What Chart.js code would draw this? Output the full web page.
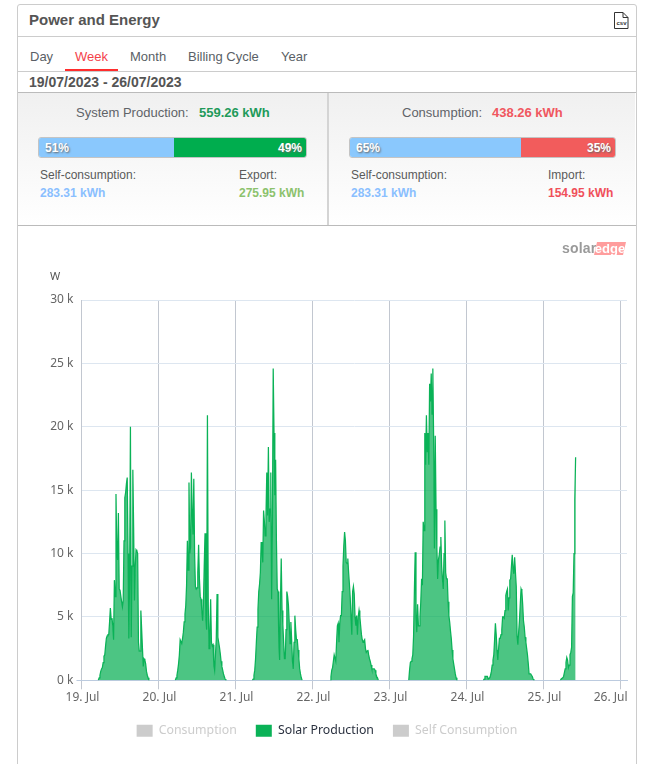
<!DOCTYPE html>
<html>
<head>
<meta charset="utf-8">
<title>Power and Energy</title>
<script src="https://cdn.jsdelivr.net/npm/chart.js@4"></script>
<style>
    html, body { margin: 0; padding: 0; background: #fff; overflow: hidden; }
    body { width: 652px; height: 764px; position: relative; font-family: "Liberation Sans", Arial, sans-serif; color: #555; }
    .abs { position: absolute; white-space: nowrap; line-height: 16px; }
    .line { position: absolute; left: 18px; width: 618px; height: 1px; background: #ccc; }
    #panel { position: absolute; left: 17px; top: 4px; width: 618px; height: 780px; border: 1px solid #ccc; border-radius: 3px; box-sizing: content-box; }
    .stats { position: absolute; top: 93px; height: 132px; background: linear-gradient(#f0f0f0, #fff); }
    .tab { font-size: 13px; top: 49px; color: #5a5f66; }
    .bar { position: absolute; top: 137px; height: 19px; border: 1px solid #c4c4c4; border-radius: 3px; overflow: hidden; }
    .bar div { position: absolute; top: 0; height: 19px; }
    .pct { color: #fff; font-weight: bold; font-size: 12px; top: 140px; text-shadow: 1px 1px 2px #666; }
    .lbl { font-size: 12px; top: 167px; color: #5a5a5a; }
    .val { font-size: 12px; font-weight: bold; top: 185px; }
    .head { font-size: 13px; top: 105px; color: #5f6368; }
    .headval { font-size: 13px; font-weight: bold; top: 105px; }
    #chartBox { position: absolute; left: 18px; top: 226px; width: 616px; height: 538px; }
</style>
</head>
<body>
<div id="panel"></div>
<div class="abs" style="left:29px;top:12px;font-size:15px;font-weight:bold;">Power and Energy</div>
<svg class="abs" style="left:614px;top:12px;" width="15" height="17" viewBox="0 0 15 17">
    <path d="M0.5 0.5H9L14 5.5V16.5H0.5Z M9 0.5V5.5H14" fill="#fff" stroke="#333"/>
    <text x="7.5" y="13" font-size="6" font-weight="bold" text-anchor="middle" fill="#333" font-family="Liberation Sans">csv</text>
</svg>
<div class="line" style="top:36px"></div>
<div class="abs tab" style="left:30px">Day</div>
<div class="abs tab" style="left:75px;color:#f4424a">Week</div>
<div class="abs tab" style="left:130px">Month</div>
<div class="abs tab" style="left:188px">Billing Cycle</div>
<div class="abs tab" style="left:281px">Year</div>
<div class="line" style="top:71px"></div>
<div style="position:absolute;left:65px;top:69px;width:53px;height:2px;background:#ff2d2d"></div>
<div class="abs" style="left:29px;top:74px;font-size:14px;font-weight:bold;">19/07/2023 - 26/07/2023</div>
<div class="line" style="top:92px;background:#bbb"></div>

<div class="stats" style="left:18px;width:309px"></div>
<div class="stats" style="left:329px;width:306px"></div>
<div style="position:absolute;left:327px;top:93px;width:2px;height:132px;background:#d4d4d4"></div>
<div class="line" style="top:225px;background:#bbb"></div>

<div class="abs head" style="left:76px">System Production:</div>
<div class="abs headval" style="left:199px;color:#1f9a5a">559.26 kWh</div>
<div class="bar" style="left:38px;width:267px">
    <div style="left:0;width:135px;background:#8ac8fd"></div>
    <div style="left:135px;width:132px;background:#00ad4e"></div>
</div>
<div class="abs pct" style="left:45px">51%</div>
<div class="abs pct" style="left:278px">49%</div>
<div class="abs lbl" style="left:40px">Self-consumption:</div>
<div class="abs val" style="left:40px;color:#8abfff">283.31 kWh</div>
<div class="abs lbl" style="left:239px">Export:</div>
<div class="abs val" style="left:239px;color:#8cc26d">275.95 kWh</div>

<div class="abs head" style="left:402px">Consumption:</div>
<div class="abs headval" style="left:492px;color:#f0575f">438.26 kWh</div>
<div class="bar" style="left:349px;width:265px">
    <div style="left:0;width:171px;background:#8ac8fd"></div>
    <div style="left:171px;width:94px;background:#f25c5c"></div>
</div>
<div class="abs pct" style="left:356px">65%</div>
<div class="abs pct" style="left:587px">35%</div>
<div class="abs lbl" style="left:351px">Self-consumption:</div>
<div class="abs val" style="left:351px;color:#8abfff">283.31 kWh</div>
<div class="abs lbl" style="left:548px">Import:</div>
<div class="abs val" style="left:548px;color:#f0505a">154.95 kWh</div>

<div id="chartBox"><canvas id="powerChart" width="616" height="538"></canvas></div>

<div class="abs" style="left:562px;top:240px;font-size:14px;font-weight:bold;color:#9a9a9a;letter-spacing:0.2px;">solar</div>
<div class="abs" style="left:594px;top:242px;width:32px;height:13px;line-height:13px;background:#ff9d9d;color:#fff;font-size:13px;font-weight:bold;text-align:center;clip-path:polygon(3px 0,100% 0,calc(100% - 3px) 100%,0 100%);">edge</div>
<div class="abs" style="left:50px;top:268px;font-size:11px;color:#555;font-family:'Noto Sans'">W</div>

<script>
const dayLabels = ["19. Jul", "20. Jul", "21. Jul", "22. Jul", "23. Jul", "24. Jul", "25. Jul", "26. Jul"];
const yTicks = [0, 5, 10, 15, 20, 25, 30];

// first 15 minute slot with output on each day
const firstSlot = [21, 21, 21, 22, 24, 21, 21];

// solar production in kW, one value per 15 minutes
const jul19 = [0, .2, .4, .7, .9, 1, 1.4, 1.9, 2, 2.7, 3.3, 3.5, 3.6, 3.6, 4.6, 5.7, 4.8, 4.9, 4.3, 3.2, 7.9, 6.6, 14.7, 10, 9.5, 13.2, 7.2, 7.1, 7.1, 6.2, 5.8, 6.3, 11, 14.4, 14.8, 15.5, 16, 10, 3.3, 8, 20, 3.4, 9, 16.6, 12, 6.3, 9, 10.3, 10.2, 10, 3, 2.3, 2.3, 5.5, 4, 2.5, 1.1, 1.7, 1.6, 1.3, .7, .4, .2, 0];
const jul20 = [0, .2, .4, .8, 1.3, 2, 3.2, 3.2, 2.9, 3.3, 3.8, 4.6, 5.2, 5.9, 7.5, 11, 8.7, 15.6, 10, 10.5, 16.4, 13, 11.5, 15.9, 10, 7.4, 7.2, 7.3, 8.5, 10.7, 8, 6.6, 6.4, 5.5, 4.7, 6, 9, 11.6, 5, 4, 20.9, 6, 2.5, 3.5, 6.4, 3, 2.7, 2.8, 1.2, .8, 2, 3.2, 6.8, 3.4, 3, 2.6, 2.1, 1.5, 1.1, .8, .5, .3, .1, 0];
const jul21 = [0, .1, .4, .8, 1.7, 3, 4.2, 5.6, 7, 7.6, 8.5, 10.9, 10.2, 9.3, 13.4, 12.5, 11.4, 13, 16.4, 13, 18.4, 12.5, 13.5, 16.4, 6.4, 12, 24.6, 19.5, 14.6, 17.4, 11, 7.2, 7, 3, 1.6, 6, 9.6, 5.5, 4.4, 3, 1.7, 1.7, 4, 7, 6.6, 5.9, 4.5, 2.9, 4.6, 3.2, 1.5, .9, 3, 5.1, 4, 3.2, 3.2, 2.4, 1.7, .9, .5, .2, 0];
const jul22 = [0, .3, .8, 1, 1.5, 2, 2, 1.5, 3, 4.3, 4.5, 3, 4.5, 5.1, 5.1, 7, 9, 10.6, 11.7, 11, 9.3, 9.2, 9.6, 8.5, 7.6, 6.5, 5, 3.6, 7, 7.4, 6.8, 5, 4.3, 5.1, 3.6, 5, 5.5, 5, 4.3, 3.6, 3.2, 3, 3.1, 3.2, 2.5, 2.2, 2.3, 2.4, 2, 1.7, 1.5, 1.2, .9, .9, .9, .9, .8, .5, .3, .2, 0];
const jul23 = [0, .8, 1.4, 1.5, 1.7, 2, 3.5, 7, 10.1, 5, 3.8, 6, 4.3, 4.3, 5, 6.2, 8, 7.5, 12.5, 11.8, 19.5, 17, 20.9, 18, 19.5, 17, 23.4, 22, 24.2, 21, 24.6, 19, 10.4, 19.3, 13.5, 10.5, 8, 9.5, 9.9, 10.5, 11.3, 9, 8, 7.2, 10, 12.6, 8.5, 8, 8, 6.2, 5.1, 4.6, 3.9, 3.3, 2.4, 1.7, 1.3, .9, .5, .2, 0];
const jul24 = [0, .1, .3, .3, .3, .3, .1, .1, .2, .4, .7, 1.2, 1.6, 2, 3.2, 4.5, 3.6, 2.4, 1.6, 2.5, 3.3, 3.3, 3.6, 4, 5, 5, 4.9, 5.5, 6.7, 7, 7.2, 5.5, 6.5, 7.9, 8, 9, 9.9, 8.8, 8.4, 9.7, 8.5, 7.4, 3.5, 2.8, 3.8, 4.7, 6, 7.2, 7, 6, 4.7, 4.2, 3.4, 3, 2.5, 2, 1.3, .5, .5, .5, .4, .3, .1, 0];
const jul25 = [0, .1, .1, .2, .3, .6, .9, 1.4, 1.8, 1.6, 1, 1.2, 2, 2.2, 2.6, 6.6, 6.9, 10, 14.2, 17.6];
const solarDays = [jul19, jul20, jul21, jul22, jul23, jul24, jul25];

// x is counted in days from 19 Jul, a null breaks the line overnight
function buildSolarPoints() {
    const points = [];
    solarDays.forEach((values, day) => {
        values.forEach((v, i) => {
            points.push({ x: day + (firstSlot[day] + i) / 96, y: v });
        });
        if (day < solarDays.length - 1) {
            points.push({ x: day + 1, y: null });
        }
    });
    return points;
}

const chartFont = { family: "'Noto Sans', sans-serif", size: 12 };

new Chart(document.getElementById("powerChart"), {
    type: "line",
    data: {
        datasets: [
            { label: "Consumption", data: [], hidden: true, borderColor: "#f25c5c" },
            {
                label: "Solar Production",
                data: buildSolarPoints(),
                borderColor: "#0ab257",
                backgroundColor: "rgba(0, 173, 78, 0.7)",
                borderWidth: 1.25,
                pointRadius: 0,
                tension: 0,
                fill: "origin",
                spanGaps: false
            },
            { label: "Self Consumption", data: [], hidden: true, borderColor: "#8ac8fd" }
        ]
    },
    options: {
        responsive: false,
        animation: false,
        layout: { padding: { top: 74, right: 7, bottom: 17, left: 9 } },
        scales: {
            x: {
                type: "linear",
                min: 0,
                max: 7.084,
                afterFit: scale => {
                    scale.paddingLeft = 0;
                    scale.paddingRight = 0;
                },
                grid: { color: "#c2c7d0", tickColor: "#c2c7d0", tickLength: 9, drawTicks: true },
                border: { color: "#bccbdf" },
                ticks: {
                    stepSize: 1,
                    includeBounds: false,
                    autoSkip: false,
                    maxRotation: 0,
                    padding: 1,
                    labelOffset: 1,
                    color: "#666",
                    font: chartFont,
                    // the last label is pushed left so it stays inside the plot
                    callback: value => value === 7 ? dayLabels[7] + "\u00a0".repeat(7) : dayLabels[value]
                }
            },
            y: {
                min: 0,
                max: 30,
                afterFit: scale => { scale.width = 54.5; },
                grid: {
                    color: ctx => ctx.tick && ctx.tick.value === 0 ? "#bccbdf" : "#dde6f0",
                    tickColor: ctx => ctx.tick && ctx.tick.value === 0 ? "#bccbdf" : "transparent",
                    tickLength: 5
                },
                border: { display: false },
                afterBuildTicks: scale => { scale.ticks = yTicks.map(v => ({ value: v })); },
                ticks: {
                    color: "#666",
                    font: chartFont,
                    padding: 3,
                    callback: value => value + " k"
                }
            }
        },
        plugins: {
            tooltip: { enabled: false },
            legend: {
                position: "bottom",
                onClick: null,
                labels: {
                    boxWidth: 16,
                    boxHeight: 12,
                    padding: 19,
                    font: { family: "'Noto Sans', sans-serif", size: 12.3 },
                    generateLabels: chart => chart.data.datasets.map((ds, i) => ({
                        text: ds.label,
                        datasetIndex: i,
                        fillStyle: ds.hidden ? "#cccccc" : ds.borderColor,
                        strokeStyle: "transparent",
                        lineWidth: 0,
                        fontColor: ds.hidden ? "#cccccc" : "#2b3240",
                        hidden: false
                    }))
                }
            }
        }
    }
});
</script>
</body>
</html>
